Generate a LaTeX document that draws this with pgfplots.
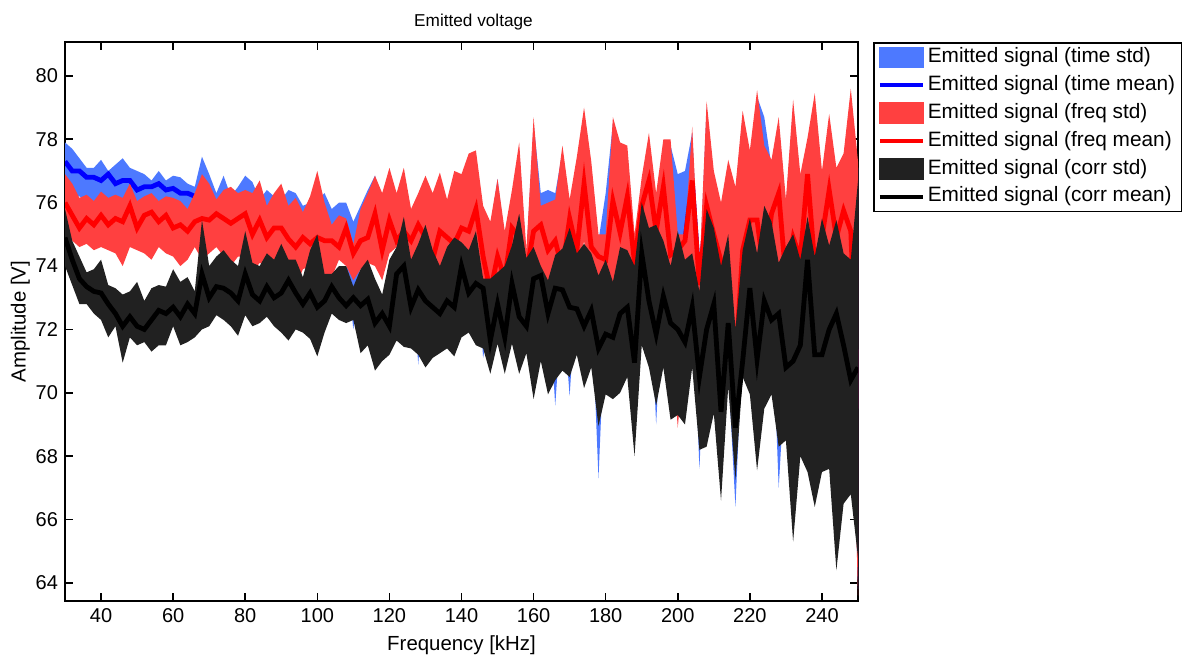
\documentclass[border=0pt]{standalone}
\usepackage{fontspec}
\setmainfont{Liberation Sans}
\usepackage{pgfplots}
\pgfplotsset{compat=1.18}
\usepackage{pgfplotstable}
\usepgfplotslibrary{fillbetween}
\definecolor{tband}{RGB}{77,121,255}
\definecolor{fband}{RGB}{255,64,64}
\definecolor{cband}{RGB}{33,33,33}

\pgfplotstableread{
x tu tm tl fu fm fl cu cm cl
30 77.9 77.3 76.5 76.9 76.0 75.2 75.8 74.9 74.0
32 77.7 77.0 76.2 76.6 75.6 74.8 74.8 74.2 73.4
34 77.4 77.0 76.2 76.15 75.2 74.6 74.3 73.6 72.8
36 77.1 76.8 76.0 76.25 75.5 74.7 73.8 73.35 72.8
38 77.1 76.8 76.0 76.05 75.3 74.5 73.9 73.2 72.5
40 77.35 76.7 75.9 76.35 75.6 74.6 74.2 73.15 72.3
42 77.0 76.9 76.1 76.15 75.3 74.5 73.4 72.8 71.75
44 77.2 76.6 75.8 76.25 75.5 74.4 73.3 72.5 72.1
46 77.4 76.7 75.9 76.15 75.4 74.0 73.1 72.1 70.95
48 77.1 76.7 75.9 76.6 75.9 74.6 73.2 72.4 71.75
50 77.0 76.4 75.6 76.05 75.2 74.5 73.5 72.1 71.5
52 76.9 76.5 75.7 76.2 75.6 74.4 72.9 72.0 71.6
54 76.7 76.5 75.7 76.3 75.7 74.2 73.3 72.3 71.3
56 77.0 76.6 75.8 76.05 75.4 74.6 73.4 72.6 71.5
58 76.7 76.4 75.6 76.2 75.6 74.4 73.35 72.5 71.5
60 76.85 76.45 75.6 76.15 75.2 74.3 73.9 72.7 72.1
62 76.8 76.3 75.5 76.05 75.3 74.0 73.5 72.4 71.5
64 76.6 76.3 75.5 75.8 75.1 74.2 73.65 72.8 71.6
66 76.5 76.2 75.4 76.3 75.4 74.6 73.2 72.5 71.75
68 77.45 76.0 75.2 76.9 75.5 74.2 75.45 73.75 72.0
70 76.9 75.9 75.1 76.6 75.45 74.4 74.0 73.0 72.1
72 76.3 75.8 75.0 76.1 75.65 74.6 74.3 73.35 72.45
74 76.85 75.8 75.0 76.4 75.5 74.3 74.5 73.3 72.3
76 76.2 75.6 74.8 76.5 75.35 74.0 74.2 73.15 72.1
78 76.5 75.7 74.9 76.3 75.5 74.3 74.0 72.9 71.8
80 76.85 75.6 74.8 76.4 75.65 74.3 75.1 73.75 72.45
82 76.65 75.5 74.7 76.3 75.0 73.8 74.1 73.1 72.1
84 76.1 75.4 74.6 76.7 75.45 74.1 74.0 72.9 72.2
86 76.4 75.7 74.9 75.9 74.9 74.0 74.4 73.35 72.4
88 76.2 75.3 74.5 76.3 75.2 74.1 74.2 73.0 72.1
90 76.1 75.4 74.6 76.6 75.2 73.9 74.7 73.15 71.9
92 76.4 75.4 74.6 75.9 74.85 73.9 74.2 73.55 71.65
94 76.3 75.3 74.5 76.15 74.6 73.35 74.2 73.15 72.0
96 75.9 75.2 74.4 75.7 74.9 73.9 73.65 72.8 71.9
98 76.0 75.3 74.5 76.2 74.7 74.0 74.5 73.15 71.7
100 76.1 75.1 74.3 77.0 74.9 73.8 75.0 72.7 71.15
102 76.3 75.0 74.2 76.0 74.8 73.65 73.75 72.9 71.9
104 75.8 74.9 74.1 75.3 74.8 73.65 73.75 73.35 72.5
106 76.0 74.8 74.2 75.6 74.6 74.2 74.0 73.0 72.3
108 76.0 74.7 74.1 75.5 75.2 74.0 74.0 72.75 72.2
110 75.4 74.5 72.0 74.7 74.4 73.55 73.35 73.0 72.3
112 75.9 74.8 74.1 75.8 74.8 73.9 73.9 72.75 71.25
114 76.4 74.9 74.3 76.3 74.9 74.1 74.2 72.95 71.5
116 76.85 75.65 74.2 76.85 75.65 74.0 73.6 72.2 70.7
118 76.1 74.5 73.75 76.3 74.5 73.55 73.1 72.5 71.0
120 76.9 75.45 74.6 77.1 75.45 74.4 74.2 72.1 71.2
122 76.1 74.8 74.8 76.3 74.8 74.6 74.6 73.75 71.65
124 76.9 75.1 74.5 77.1 75.1 74.3 75.55 74.0 71.45
126 75.6 74.8 74.2 75.8 74.8 74.0 74.2 72.7 71.4
128 76.1 75.3 70.9 76.3 75.3 74.0 74.7 73.25 71.2
130 76.65 74.9 74.0 76.85 74.9 73.8 75.3 72.9 70.8
132 76.1 74.2 73.7 76.3 74.2 73.5 74.5 72.7 71.1
134 76.75 75.1 74.0 76.95 75.1 73.8 74.0 72.5 71.25
136 75.9 74.9 74.2 76.1 74.9 74.0 74.6 72.9 71.4
138 76.8 74.7 74.6 77.0 74.7 74.4 74.9 72.7 71.15
140 76.7 75.2 74.4 76.9 75.2 74.2 74.75 74.0 71.75
142 77.35 75.1 74.0 77.55 75.1 73.8 74.5 73.15 71.9
144 77.45 75.8 74.5 77.65 75.8 74.3 75.1 73.45 71.5
146 75.7 74.3 71.1 75.9 74.3 73.2 73.6 73.3 71.4
148 75.2 73.2 72.5 75.4 73.2 72.3 73.6 71.65 70.6
150 76.75 74.3 73.5 76.75 74.3 73.3 73.8 72.8 71.55
152 74.9 73.6 72.7 75.1 73.6 72.5 74.0 71.75 70.6
154 76.2 75.2 74.0 76.4 75.2 73.8 74.65 73.45 71.55
156 77.7 74.9 73.8 77.9 74.9 73.6 75.65 72.4 70.6
158 74.3 73.8 72.8 74.5 73.8 72.6 74.25 72.1 71.25
160 78.5 75.1 74.1 78.7 75.1 73.9 74.6 73.6 69.8
162 76.3 75.3 74.2 75.9 75.3 74.0 74.0 73.7 71.0
164 76.4 74.5 73.3 76.0 74.5 73.1 73.55 72.5 69.95
166 76.3 74.8 69.6 76.1 74.8 73.3 74.35 73.3 70.4
168 77.6 73.9 72.9 77.8 73.9 72.7 74.55 73.25 70.7
170 75.9 75.5 69.9 76.1 75.5 74.3 75.2 72.7 70.5
172 77.25 74.5 73.5 77.45 74.5 73.3 74.4 72.65 71.2
174 78.8 76.6 75.0 79.0 76.6 74.8 74.7 72.1 70.15
176 77.1 74.6 73.0 77.3 74.6 72.8 74.4 72.6 70.8
178 74.8 74.3 67.3 75.0 74.3 72.0 73.7 71.4 68.95
180 76.3 74.2 72.7 75.0 74.2 72.5 74.2 71.85 69.95
182 78.5 76.05 73.7 78.7 76.05 73.5 73.5 71.75 69.8
184 77.7 75.05 73.0 77.9 75.05 72.8 74.6 72.5 70.0
186 77.6 76.2 73.7 77.8 76.2 73.5 74.5 72.7 70.5
188 74.8 74.1 72.2 75.0 74.1 72.0 74.0 70.95 68.0
190 76.6 75.9 73.4 76.8 75.9 73.2 76.0 74.4 71.5
192 78.0 76.7 74.0 78.2 76.7 73.8 75.2 72.9 70.8
194 76.1 75.1 69.0 76.3 75.1 72.6 75.3 71.85 69.6
196 77.8 76.5 73.7 78.0 76.5 73.5 74.8 73.05 70.8
198 77.8 74.35 72.2 78.0 74.35 72.0 74.0 72.2 69.15
200 76.9 74.5 69.1 75.0 74.5 68.9 75.1 72.0 69.3
202 77.0 74.8 71.7 75.0 74.8 71.5 74.2 71.6 69.0
204 78.2 76.7 73.7 78.4 76.7 73.5 74.4 72.7 70.8
206 73.6 73.4 67.6 73.8 73.4 71.5 73.2 70.5 68.2
208 79.0 75.9 72.7 79.2 75.9 72.5 75.8 72.0 68.3
210 76.8 75.0 72.0 77.0 75.0 71.8 75.2 72.8 69.35
212 75.8 74.15 71.7 76.0 74.15 71.5 74.0 69.4 66.6
214 77.15 73.1 70.7 77.35 73.1 70.5 75.0 72.2 70.2
216 76.3 70.9 66.4 76.5 70.9 67.6 72.0 68.9 67.25
218 78.7 74.5 71.7 78.9 74.5 71.5 74.5 71.0 70.5
220 77.45 75.45 72.7 77.65 75.45 72.5 75.5 73.3 69.95
222 79.35 75.45 72.5 79.55 75.45 72.3 74.4 71.05 67.55
224 78.7 73.7 71.2 77.8 73.7 71.0 75.9 72.9 69.5
226 77.15 75.65 73.0 77.35 75.65 72.8 75.4 72.3 69.95
228 78.5 76.3 67.0 78.7 76.3 73.3 74.1 72.5 68.3
230 75.9 73.6 71.0 76.1 73.6 70.8 74.6 70.8 68.5
232 79.05 74.9 72.2 79.25 74.9 72.0 75.0 71.0 65.3
234 76.7 74.25 71.7 76.9 74.25 71.5 74.2 71.5 68.0
236 77.85 76.9 74.0 78.05 76.9 73.8 75.55 74.2 67.5
238 79.25 74.05 71.2 79.45 74.05 71.0 74.3 71.2 66.4
240 76.8 74.9 72.2 77.0 74.9 72.0 75.5 71.2 67.5
242 78.6 76.4 73.5 78.8 76.4 73.3 74.65 72.0 67.6
244 76.9 74.9 72.2 77.1 74.9 72.0 75.45 72.5 64.4
246 77.35 75.75 73.0 77.55 75.75 72.8 74.4 71.5 66.5
248 79.4 75.1 72.4 79.6 75.1 72.2 74.2 70.4 66.8
250 77.1 69.5 63.8 77.3 69.5 63.6 76.7 70.8 64.8
}\data

\begin{document}
\begin{tikzpicture}
\begin{axis}[
  at={(0pt,0pt)}, anchor=south west,
  width=396.5pt, height=279.5pt, scale only axis,
  xmin=30, xmax=250, ymin=63.43, ymax=81.07,
  xtick={40,60,...,240}, ytick={64,66,...,80},
  tick align=inside, major tick length=4pt,
  axis line style={line width=0.8pt},
  every tick/.style={black, line width=0.8pt},
  tick label style={font=\fontsize{10}{12}\selectfont},
  label style={font=\fontsize{10.2}{12}\selectfont},
  ylabel style={yshift=-4pt},
  /pgf/number format/assume math mode=true,
  fill between/on layer=main,
  xlabel={Frequency [kHz]}, ylabel={Amplitude [V]},
  title={Emitted voltage},
  title style={font=\fontsize{8.6}{10}\selectfont, xshift=6pt, yshift=-3.5pt},
  legend style={at={(1,1)}, anchor=north west, xshift=7.5pt,
    draw=black, line width=0.8pt, inner xsep=2pt, inner ysep=1pt,
    row sep=1.1pt,
    nodes={inner sep=1.5pt, text height=7.5pt, text depth=2.3pt},
    font=\fontsize{10.4}{12}\selectfont},
  legend cell align=left,
]
\addplot[draw=none, name path=tu, forget plot] table[x=x,y=tu]{\data};
\addplot[draw=none, name path=tl, forget plot] table[x=x,y=tl]{\data};
\addplot[tband, draw=none, forget plot] fill between[of=tu and tl];
\addplot[blue, line width=2.4pt, forget plot] table[x=x,y=tm]{\data};

\addplot[draw=none, name path=fu, forget plot] table[x=x,y=fu]{\data};
\addplot[draw=none, name path=fl, forget plot] table[x=x,y=fl]{\data};
\addplot[fband, draw=none, forget plot] fill between[of=fu and fl];
\addplot[red, line width=2.4pt, forget plot] table[x=x,y=fm]{\data};

\addplot[draw=none, name path=cu, forget plot] table[x=x,y=cu]{\data};
\addplot[draw=none, name path=cl, forget plot] table[x=x,y=cl]{\data};
\addplot[cband, draw=none, forget plot] fill between[of=cu and cl];
\addplot[black, line width=2.4pt, forget plot] table[x=x,y=cm]{\data};

\addlegendimage{legend image code/.code={\fill[tband] (0pt,-5pt) rectangle (21.5pt,5pt);}}
\addlegendentry{Emitted signal (time std)}
\addlegendimage{legend image code/.code={\draw[blue, line width=2pt] (0pt,0pt) -- (21.5pt,0pt);}}
\addlegendentry{Emitted signal (time mean)}
\addlegendimage{legend image code/.code={\fill[fband] (0pt,-5pt) rectangle (21.5pt,5pt);}}
\addlegendentry{Emitted signal (freq std)}
\addlegendimage{legend image code/.code={\draw[red, line width=2pt] (0pt,0pt) -- (21.5pt,0pt);}}
\addlegendentry{Emitted signal (freq mean)}
\addlegendimage{legend image code/.code={\fill[cband] (0pt,-5pt) rectangle (21.5pt,5pt);}}
\addlegendentry{Emitted signal (corr std)}
\addlegendimage{legend image code/.code={\draw[black, line width=2pt] (0pt,0pt) -- (21.5pt,0pt);}}
\addlegendentry{Emitted signal (corr mean)}
\end{axis}
\pgfresetboundingbox
\path[use as bounding box] (-32.5pt,-26.5pt) rectangle (558.5pt,300.5pt);
\end{tikzpicture}
\end{document}
